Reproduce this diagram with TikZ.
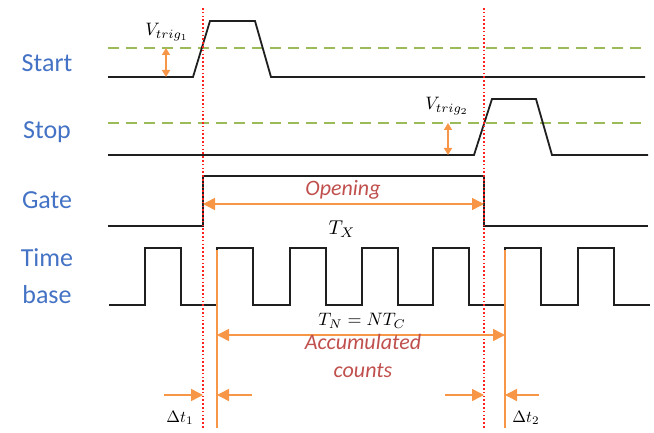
\documentclass[tikz,border=0pt]{standalone}
\usepackage{fontspec}
\setmainfont{Carlito}
\usetikzlibrary{arrows.meta}
\definecolor{lblue}{HTML}{4472C4}
\definecolor{tgreen}{HTML}{9BBB59}
\definecolor{dorange}{HTML}{F79646}
\definecolor{tred}{HTML}{C0504D}
\definecolor{dred}{HTML}{FF2020}
\begin{document}
\begin{tikzpicture}[x=1pt,y=-1pt,
  sig/.style={line width=1.8pt, black!88, line join=miter},
  thr/.style={line width=1.6pt, tgreen, dash pattern=on 11pt off 7pt},
  redline/.style={line width=1.6pt, dred, dash pattern=on 1.6pt off 2.2pt},
  oline/.style={line width=1.3pt, draw=dorange},
  oarr/.style={line width=1.5pt, dorange, {Triangle[length=12pt,width=12pt]}-{Triangle[length=12pt,width=12pt]}},
  osarr/.style={line width=1.5pt, dorange, -{Triangle[length=12pt,width=12pt]}},
  vsarr/.style={line width=1.5pt, dorange, {Triangle[length=7pt,width=8pt]}-{Triangle[length=7pt,width=8pt]}},
  siglabel/.style={text=lblue, font=\fontsize{26}{37}\selectfont, align=center, inner sep=0pt},
  redtext/.style={text=tred, font=\fontsize{22}{28}\selectfont\itshape, align=center, inner sep=0pt},
  mlabel/.style={inner sep=0pt}
]
\useasboundingbox (0,0) rectangle (654,433);

% signal labels
\node[siglabel] (lstart) at (47,63) {Start};
\node[siglabel] (lstop) at (47,132) {Stop};
\node[siglabel] (lgate) at (47,200) {Gate};
\node[siglabel] (ltb) at (47,276) {Time\\base};

% thresholds
\coordinate (th1a) at (108,48); \coordinate (th1b) at (645,48);
\coordinate (th2a) at (108,123); \coordinate (th2b) at (645,123);
\draw[thr] (th1a) -- (th1b);
\draw[thr] (th2a) -- (th2b);

% start signal
\draw[sig] (108,77) -- (193,77) -- (210,21) -- (255,21) -- (271,77) -- (645,77);
% stop signal
\draw[sig] (108,155) -- (474,155) -- (492,99) -- (536,99) -- (552,155) -- (648,155);
% gate
\draw[sig] (108,226) -- (203,226) -- (203,176) -- (484,176) -- (484,226) -- (648,226);
% time base
\draw[sig] (109,305)
  foreach \r in {145,217,290,362,433,505,578} { -- (\r,305) -- (\r,248) -- (\r+36,248) -- (\r+36,305) }
  -- (650,305);

% red dotted markers
\coordinate (r1t) at (203,8); \coordinate (r1b) at (203,428);
\coordinate (r2t) at (484,8); \coordinate (r2b) at (484,428);
\draw[redline] (r1t) -- (r1b);
\draw[redline] (r2t) -- (r2b);

% orange count boundaries
\coordinate (c1t) at (217,250); \coordinate (c1b) at (217,428);
\coordinate (c2t) at (505,250); \coordinate (c2b) at (505,428);
\draw[oline] (c1t) -- (c1b);
\draw[oline] (c2t) -- (c2b);

% trigger arrows
\coordinate (v1a) at (166,48); \coordinate (v1b) at (166,77);
\coordinate (v2a) at (448,123); \coordinate (v2b) at (448,155);
\draw[vsarr] (v1a) -- (v1b);
\draw[vsarr] (v2a) -- (v2b);
\node[mlabel] (vt1) at (167,32) {\scalebox{1.8}{$V_{trig_1}$}};
\node[mlabel] (vt2) at (447,106) {\scalebox{1.8}{$V_{trig_2}$}};

% opening
\coordinate (oa) at (203,204); \coordinate (ob) at (484,204);
\draw[oarr] (oa) -- (ob);
\node[redtext] (open) at (343,190) {Opening};
\node[mlabel] (tx) at (342,229) {\scalebox{2}{$T_X$}};

% accumulated
\coordinate (na) at (217,335); \coordinate (nb) at (505,335);
\draw[oarr] (na) -- (nb);
\node[mlabel] (tn) at (362,321) {\scalebox{1.8}{$T_N = NT_C$}};
\node[redtext] (acc) at (363,356) {Accumulated\\counts};

% delta t arrows
\coordinate (d1a) at (164,395); \coordinate (d2a) at (252,395);
\coordinate (d3a) at (445,395); \coordinate (d4a) at (539,395);
\coordinate (r1m) at (203,395); \coordinate (c1m) at (217,395);
\coordinate (r2m) at (484,395); \coordinate (c2m) at (505,395);
\draw[osarr] (d1a) -- (r1m);
\draw[osarr] (d2a) -- (c1m);
\draw[osarr] (d3a) -- (r2m);
\draw[osarr] (d4a) -- (c2m);
\node[mlabel] (dt1) at (180,418) {\scalebox{1.65}{$\Delta t_1$}};
\node[mlabel] (dt2) at (526,418) {\scalebox{1.65}{$\Delta t_2$}};
\end{tikzpicture}
\end{document}
